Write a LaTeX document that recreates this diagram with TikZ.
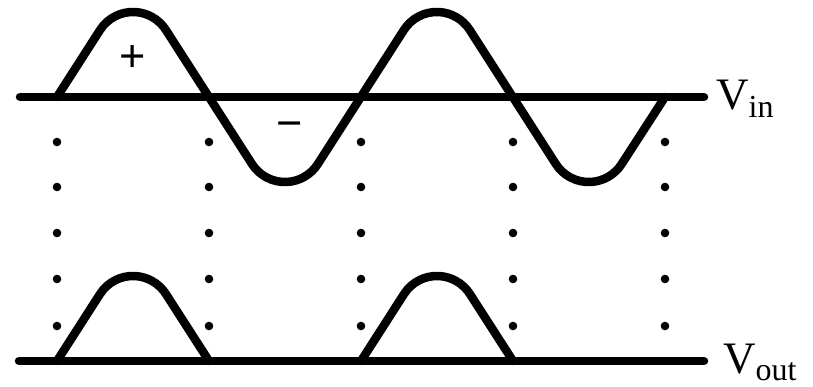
\documentclass[tikz,border=0pt]{standalone}
\usepackage{fontspec}
\setmainfont{Liberation Serif}
\newfontfamily\signfont{Liberation Sans}
\usepackage{tikz}
\usetikzlibrary{positioning}

\begin{document}
\begin{tikzpicture}[x=1pt,y=-1pt,
    axis/.style={line width=8.5pt,line cap=round},
    wave/.style={line width=8.5pt,line cap=round,line join=round},
    sign/.style={inner sep=0pt,font=\signfont\fontsize{45}{45}\selectfont},
    lbl/.style={inner sep=0pt,anchor=base west,font=\fontsize{45}{45}\selectfont},
    crest/.style={start angle=212.8,end angle=327.2,radius=39.1},
    trough/.style={start angle=147.2,end angle=32.8,radius=39.1}]
    \useasboundingbox (0,0) rectangle (813,387);
    % axes
    \coordinate (inL) at (20,97);
    \coordinate (inR) at (704,97);
    \coordinate (outL) at (19,361);
    \coordinate (outR) at (704,361);
    \draw[axis] (inL) -- (inR);
    \draw[axis] (outL) -- (outR);
    % input wave
    \coordinate (in0) at (57,97);
    \coordinate (in4) at (665,97);
    \draw[wave] (in0) -- ++(43.1,-67.1) arc[crest]
      -- ++(86.2,134.2) arc[trough]
      -- ++(86.2,-134.2) arc[crest]
      -- ++(86.2,134.2) arc[trough] -- (in4);
    % rectified output
    \coordinate (out0) at (57,361);
    \coordinate (out1) at (209,361);
    \coordinate (out2) at (361,361);
    \coordinate (out3) at (513,361);
    \draw[wave] (out0) -- ++(43.1,-67.1) arc[crest] -- (out1);
    \draw[wave] (out2) -- ++(43.1,-67.1) arc[crest] -- (out3);
    % dotted guides
    \foreach \x in {57,209,361,513,665}
      \foreach \y in {142,187,233,279,326}
        \fill (\x,\y) circle (4.3);
    % labels
    \node[sign] (plus) at (133,59) {+};
    \node[sign] (minus) at (290,130) {−};
    \node[lbl] (vin) at (716,110) {V\raisebox{-8pt}{\fontsize{32}{32}\selectfont in}};
    \node[lbl] (vout) at (723,373) {V\raisebox{-7pt}{\fontsize{32}{32}\selectfont out}};
\end{tikzpicture}
\end{document}
